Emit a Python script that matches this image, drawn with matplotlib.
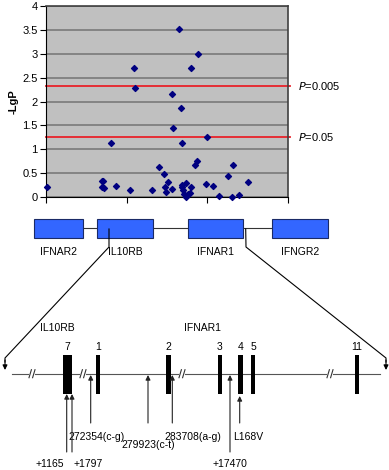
import matplotlib.pyplot as plt
from matplotlib.patches import Rectangle

plt.rcParams['font.family'] = ['Liberation Sans', 'DejaVu Sans']

# -LgP association scan
snp_x = [0.01, 0.69, 0.71, 0.70, 0.72, 0.80, 0.87, 1.04, 1.09, 1.10, 1.32, 1.40,
         1.46, 1.51, 1.48, 1.49, 1.56, 1.56, 1.58, 1.65, 1.67, 1.68, 1.69, 1.68,
         1.70, 1.73, 1.71, 1.73, 1.76, 1.79, 1.80, 1.80, 1.85, 1.87, 1.88, 1.98,
         1.99, 2.07, 2.15, 2.26, 2.32, 2.30, 2.39, 2.50]
snp_lgp = [0.21, 0.34, 0.33, 0.21, 0.19, 1.13, 0.24, 0.15, 2.70, 2.29, 0.15, 0.62,
           0.48, 0.31, 0.20, 0.10, 0.17, 2.15, 1.44, 3.51, 1.86, 1.13, 0.25, 0.20,
           0.15, 0.29, 0.07, 0.00, 0.06, 0.08, 0.20, 2.70, 0.66, 0.75, 3.00, 0.27,
           1.26, 0.22, 0.02, 0.45, 0.67, 0.01, 0.05, 0.31]
thresholds = [2.33, 1.25]
threshold_labels = ['0.005', '0.05']

# gene map (pixel layout of the schematic)
genes = ['IFNAR2', 'IL10RB', 'IFNAR1', 'IFNGR2']
gene_start = [34, 97, 188, 272]
gene_end = [83, 153, 243, 328]

# exon structure
exon_names = ['7', '1', '2', '3', '4', '5', '11']
exon_start = [62.7, 95.7, 166, 218, 238, 251, 355]
exon_end = [72.3, 99.7, 171, 222, 243, 255, 359]
break_marks = [32, 83, 182, 330]

# variants: (label, arrow x, arrow tail y, arrow tip y, label x, label y)
variants = [
    ('+1165', 66.7, 452, 394, 49.5, 464),
    ('+1797', 72.0, 452, 394, 88, 464),
    ('272354(c-g)', 90.7, 423, 375, 97, 437),
    ('279923(c-t)', 148.0, 423, 375, 148, 445),
    ('283708(a-g)', 172.3, 423, 375, 192.5, 437),
    ('+17470', 230.0, 452, 375, 230, 464),
    ('L168V', 239.7, 423, 396, 248, 437),
]

fig = plt.figure(figsize=(3.89, 4.70), dpi=100)

# --- scatter panel ---
ax = fig.add_axes([46 / 389, 1 - 197 / 470, 242 / 389, 191 / 470])
ax.set_facecolor('#C0C0C0')
ax.set_xlim(0, 3)
ax.set_ylim(0, 4)
ax.set_yticks([0, 0.5, 1, 1.5, 2, 2.5, 3, 3.5, 4])
ax.set_yticklabels(['0', '0.5', '1', '1.5', '2', '2.5', '3', '3.5', '4'])
ax.set_xticks([0, 1, 2, 3])
ax.set_xticklabels([])
ax.tick_params(axis='both', direction='out', length=4, width=0.8, labelsize=8, pad=2)
ax.yaxis.grid(True, color='#7A7A7A', linewidth=1.2)
ax.set_axisbelow(True)
for side in ['left', 'bottom']:
    ax.spines[side].set_color('black')
for side in ['top', 'right']:
    ax.spines[side].set_color('#404040')
    ax.spines[side].set_linewidth(1.2)

ax.scatter(snp_x, snp_lgp, marker='D', s=9, color='#000080', zorder=3, clip_on=False)

for thr, lab in zip(thresholds, threshold_labels):
    ax.plot([0, 3.02], [thr, thr], color='#E8222A', linewidth=1.3, zorder=2, clip_on=False)
    ax.text(3.13, thr, r'$\it{P}$=' + lab, fontsize=8, va='center', ha='left')

ax.set_ylabel('-LgP', fontsize=8, fontweight='bold', labelpad=3)

# --- schematic ---
sk = fig.add_axes([0, 0, 1, 1])
sk.set_xlim(0, 389)
sk.set_ylim(470, 0)
sk.axis('off')
sk.patch.set_visible(False)

# gene row
sk.plot([gene_end[0], gene_start[-1]], [228, 228], color='#333333', linewidth=0.8, zorder=1)
for name, g0, g1 in zip(genes, gene_start, gene_end):
    sk.add_patch(Rectangle((g0, 218.5), g1 - g0, 19, facecolor='#3366FF',
                           edgecolor='#1A2A66', linewidth=0.8, zorder=2))
    sk.text((g0 + g1) / 2, 252, name, fontsize=7.5, ha='center', va='center')

# zoom lines
sk.plot([109, 109, 5, 5], [229, 247, 358, 362], color='black', linewidth=0.8, zorder=3)
sk.annotate('', xy=(5, 370), xytext=(5, 360),
            arrowprops=dict(arrowstyle='-|>', color='black', lw=0.8,
                            mutation_scale=7, shrinkA=0, shrinkB=0))
sk.plot([245.7, 246, 386, 386], [229, 247, 358, 362], color='black', linewidth=0.8, zorder=3)
sk.annotate('', xy=(386, 370), xytext=(386, 360),
            arrowprops=dict(arrowstyle='-|>', color='black', lw=0.8,
                            mutation_scale=7, shrinkA=0, shrinkB=0))

# exon line
line_y = 373.7
sk.plot([12, 380], [line_y, line_y], color='#555555', linewidth=0.8, zorder=1)
for bx in break_marks:
    sk.add_patch(Rectangle((bx - 3, line_y - 2), 6, 4, facecolor='white',
                           edgecolor='none', zorder=2))
    for dx in (-1.8, 1.8):
        sk.plot([bx + dx - 1.2, bx + dx + 1.2], [line_y + 4, line_y - 4],
                color='#333333', linewidth=0.8, zorder=3)

for name, e0, e1 in zip(exon_names, exon_start, exon_end):
    sk.add_patch(Rectangle((e0, 355), e1 - e0, 38.5, facecolor='black',
                           edgecolor='none', zorder=4))
    sk.text((e0 + e1) / 2, 347, name, fontsize=7.5, ha='center', va='center')

sk.text(57, 328, 'IL10RB', fontsize=7.5, ha='center', va='center')
sk.text(203, 328, 'IFNAR1', fontsize=7.5, ha='center', va='center')

for label, vx, y_tail, y_tip, lx, ly in variants:
    sk.annotate('', xy=(vx, y_tip), xytext=(vx, y_tail),
                arrowprops=dict(arrowstyle='-|>', color='#222222', lw=0.8,
                                mutation_scale=7, shrinkA=0, shrinkB=0), zorder=5)
    sk.text(lx, ly, label, fontsize=7.5, ha='center', va='center')

fig.savefig('out.png', dpi=100)
